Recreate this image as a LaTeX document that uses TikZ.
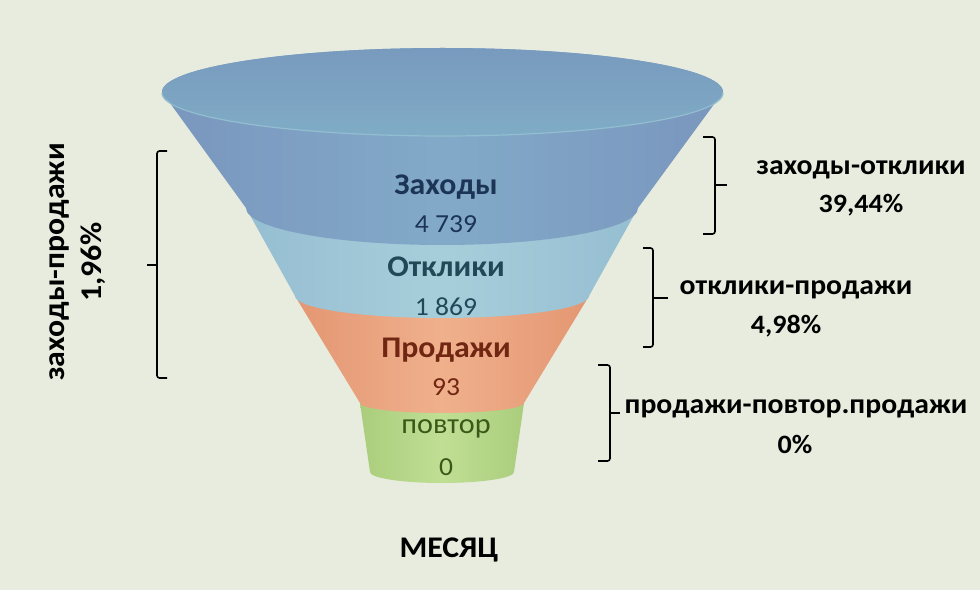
\documentclass[tikz,border=0pt]{standalone}
\usepackage{fontspec}
\setmainfont{Carlito}[FakeStretch=1.06]
\definecolor{bgc}{RGB}{232,236,222}
\definecolor{blueL}{RGB}{122,150,190}
\definecolor{blueM}{RGB}{130,170,200}
\definecolor{topT}{RGB}{120,154,190}
\definecolor{topB}{RGB}{128,172,198}
\definecolor{rimc}{RGB}{146,190,208}
\definecolor{lbL}{RGB}{150,190,210}
\definecolor{lbM}{RGB}{166,206,218}
\definecolor{orL}{RGB}{228,150,114}
\definecolor{orM}{RGB}{240,176,140}
\definecolor{grL}{RGB}{170,205,124}
\definecolor{grM}{RGB}{192,223,148}
\definecolor{tBlue}{RGB}{28,52,86}
\definecolor{tTeal}{RGB}{34,72,88}
\definecolor{tRed}{RGB}{112,38,18}
\definecolor{tGreen}{RGB}{58,88,24}
\tikzset{
  brk/.style={line width=1.6pt, black, rounded corners=2.5pt},
  flab/.style={font=\fontsize{30}{33}\selectfont\bfseries, anchor=base},
  fnum/.style={font=\fontsize{26}{30}\selectfont, anchor=base},
  fword/.style={font=\fontsize{28.5}{30}\selectfont, anchor=base},
  rlab/.style={font=\fontsize{28}{30}\selectfont\bfseries, anchor=base, text=black},
  rnum/.style={font=\fontsize{26.5}{30}\selectfont\bfseries, anchor=base, text=black},
  llab/.style={font=\fontsize{30}{33}\selectfont\bfseries, anchor=base, text=black, rotate=90},
}
\begin{document}
\begin{tikzpicture}[x=1pt,y=1pt]
\useasboundingbox (0,0) rectangle (980,590);
\fill[bgc] (0,0) rectangle (980,590);
% green band
\shade[left color=grL, right color=grL, middle color=grM]
  (360,187) -- (370,118) arc[start angle=180,end angle=360,x radius=72,y radius=11]
  -- (524,187) arc[start angle=0,end angle=180,x radius=82,y radius=10] -- cycle;
% orange band
\shade[left color=orL, right color=orL, middle color=orM]
  (295,294) -- (360,187) arc[start angle=180,end angle=360,x radius=82,y radius=10]
  -- (589,294) arc[start angle=0,end angle=180,x radius=147,y radius=22] -- cycle;
% light blue band
\shade[left color=lbL, right color=lbL, middle color=lbM]
  (246,382) -- (295,294) arc[start angle=180,end angle=360,x radius=147,y radius=22]
  -- (638,382) arc[start angle=0,end angle=180,x radius=196,y radius=37] -- cycle;
% blue band
\shade[left color=blueL, right color=blueL, middle color=blueM]
  (162,498) -- (246,382) arc[start angle=180,end angle=360,x radius=196,y radius=37]
  -- (638,382) -- (723,498) arc[start angle=0,end angle=180,x radius=280.5,y radius=44] -- cycle;
% top face
\shade[top color=topT, bottom color=topB] (442.5,498) ellipse[x radius=280.5, y radius=44];
\draw[rimc, line width=1.2pt] (723,497) arc[start angle=0,end angle=-180,x radius=280.5,y radius=43];
% funnel labels
\node[flab, text=tBlue] (zah) at (446,395) {Заходы};
\node[fnum, text=tBlue] (zahn) at (446,357) {4 739};
\node[flab, text=tTeal] (otk) at (446,313) {Отклики};
\node[fnum, text=tTeal] (otkn) at (446,275) {1 869};
\node[flab, text=tRed] (prod) at (446,233) {Продажи};
\node[fnum, text=tRed] (prodn) at (446,195) {93};
\node[fword, text=tGreen] (pov) at (446,157) {повтор};
\node[fnum, text=tGreen] (povn) at (446,115) {0};
\node[flab, text=black] (mes) at (449,33) {МЕСЯЦ};
% right labels
\node[rlab] (r1) at (861,415) {заходы-отклики};
\node[rnum] (r1n) at (861,377) {39,44\%};
\node[rlab] (r2) at (796,295) {отклики-продажи};
\node[rnum] (r2n) at (786,257) {4,98\%};
\node[rlab] (r3) at (796,177) {продажи-повтор.продажи};
\node[rnum] (r3n) at (795,137) {0\%};
% left rotated labels
\node[llab] (l1) at (64,328) {заходы-продажи};
\node[llab] (l1n) at (101,328) {1,96\%};
% brackets
\draw[brk] (703,453) -- (715,453) -- (715,356) -- (703,356);
\draw[line width=1.6pt] (715,405) -- (727,405);
\draw[brk] (643,342) -- (653,342) -- (653,243) -- (643,243);
\draw[line width=1.6pt] (653,292) -- (668,292);
\draw[brk] (598,225) -- (610,225) -- (610,129) -- (598,129);
\draw[line width=1.6pt] (610,177) -- (620,177);
\draw[brk] (167,439) -- (157,439) -- (157,212) -- (167,212);
\draw[line width=1.6pt] (157,325) -- (147,325);
\end{tikzpicture}
\end{document}
